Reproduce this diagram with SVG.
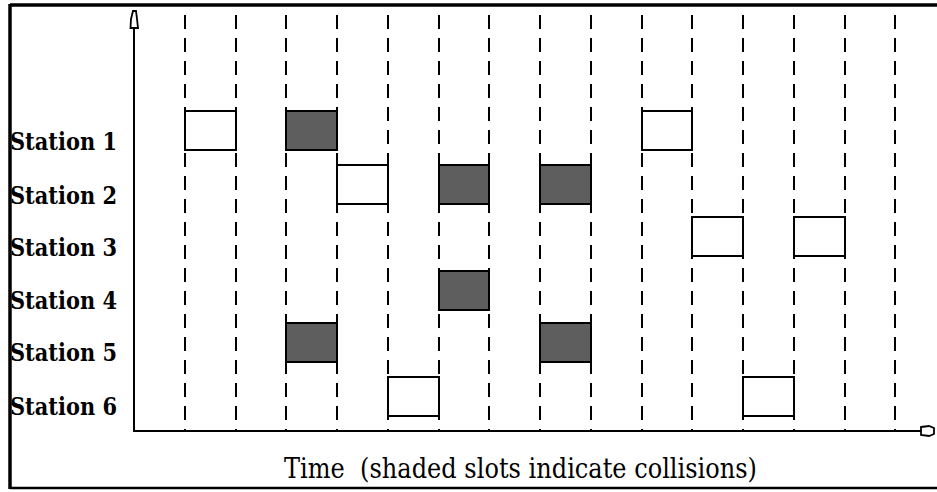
<svg xmlns="http://www.w3.org/2000/svg" width="937" height="492" viewBox="0 0 937 492">
<style>
.lbl{font-family:'DejaVu Serif','Liberation Serif',serif;font-weight:bold;font-size:25px;fill:#000}
.cap{font-family:'DejaVu Serif','Liberation Serif',serif;font-weight:normal;font-size:27px;fill:#000}
.grid{stroke:#000;stroke-width:2;stroke-dasharray:14 9;fill:none}
.slot{fill:#fff;stroke:#000;stroke-width:2}
.hit{fill:#5e5e5e;stroke:#000;stroke-width:2}
.ax{stroke:#000;stroke-width:2;fill:none}
.head{fill:#fff;stroke:#000;stroke-width:1.8}
</style>
<rect width="937" height="492" fill="#fff"/>
<g id="frame">
<path d="M10 5 H937" stroke="#000" stroke-width="3.5" fill="none"/>
<path d="M10 4 V489" stroke="#000" stroke-width="3.5" fill="none"/>
<path d="M10 488 H937" stroke="#000" stroke-width="2.5" fill="none"/>
</g>
<g id="grid" class="grid">
<path d="M185 15V431M236 15V431M286 15V431M337 15V431M388 15V431M439 15V431M489 15V431M540 15V431M591 15V431M642 15V431M692 15V431M743 15V431M794 15V431M845 15V431M895 15V431"/>
</g>
<g id="connectors">
<path class="ax" d="M134 28 V431 H921"/>
<path class="head" d="M130.5 28 L131 19 L133 11 L136 11 L137 19 L138 28 Z"/>
<path class="head" d="M921 427 L929 426 L934 428 L934 434 L929 436 L921 435 Z"/>
</g>
<g id="station1">
<text class="lbl" x="10" y="150" textLength="107" lengthAdjust="spacingAndGlyphs">Station 1</text>
<rect class="slot" x="185" y="111" width="51" height="39"/>
<rect class="hit" x="286" y="111" width="51" height="39"/>
<rect class="slot" x="642" y="111" width="50" height="39"/>
</g>
<g id="station2">
<text class="lbl" x="10" y="204" textLength="107" lengthAdjust="spacingAndGlyphs">Station 2</text>
<rect class="slot" x="337" y="165" width="51" height="39"/>
<rect class="hit" x="439" y="165" width="50" height="39"/>
<rect class="hit" x="540" y="165" width="51" height="39"/>
</g>
<g id="station3">
<text class="lbl" x="10" y="256" textLength="107" lengthAdjust="spacingAndGlyphs">Station 3</text>
<rect class="slot" x="692" y="217" width="51" height="39"/>
<rect class="slot" x="794" y="217" width="51" height="39"/>
</g>
<g id="station4">
<text class="lbl" x="10" y="309" textLength="107" lengthAdjust="spacingAndGlyphs">Station 4</text>
<rect class="hit" x="439" y="271" width="50" height="39"/>
</g>
<g id="station5">
<text class="lbl" x="10" y="361" textLength="107" lengthAdjust="spacingAndGlyphs">Station 5</text>
<rect class="hit" x="286" y="323" width="51" height="39"/>
<rect class="hit" x="540" y="323" width="51" height="39"/>
</g>
<g id="station6">
<text class="lbl" x="10" y="415" textLength="107" lengthAdjust="spacingAndGlyphs">Station 6</text>
<rect class="slot" x="388" y="377" width="51" height="39"/>
<rect class="slot" x="743" y="377" width="51" height="39"/>
</g>
<g id="caption">
<text class="cap" x="284" y="478" textLength="473" lengthAdjust="spacingAndGlyphs" xml:space="preserve">Time  (shaded slots indicate collisions)</text>
</g>
</svg>
